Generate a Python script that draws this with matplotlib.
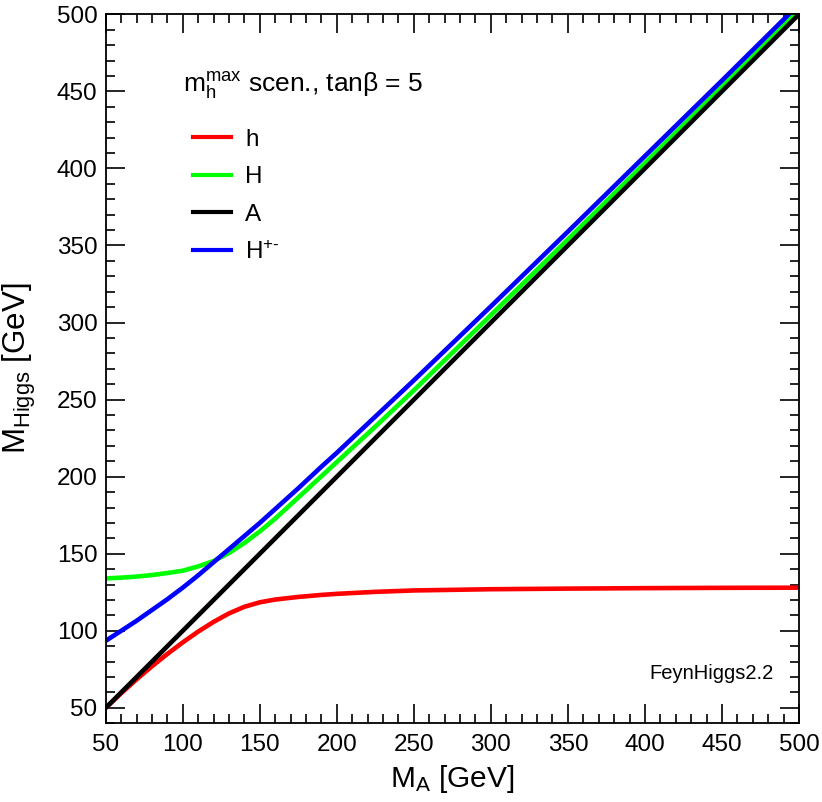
import matplotlib
matplotlib.use("Agg")
import matplotlib.pyplot as plt
from matplotlib.ticker import MultipleLocator
from matplotlib.lines import Line2D

plt.rcParams['font.family'] = ['Liberation Sans', 'DejaVu Sans']
plt.rcParams['mathtext.fontset'] = 'custom'
plt.rcParams['mathtext.rm'] = 'Liberation Sans'
plt.rcParams['mathtext.it'] = 'Liberation Sans'
plt.rcParams['mathtext.bf'] = 'Liberation Sans:bold'

# ---- data ----
MA = [50, 60, 70, 80, 90, 100, 110, 120, 130, 140, 150, 160, 175,
      190, 200, 225, 250, 300, 350, 400, 450, 500]
m_h = [50, 59.5, 68.5, 77, 85, 92.5, 99.5, 105.8, 111.3, 115.6, 118.5, 120.3, 122,
       123.3, 124, 125.3, 126.2, 127, 127.4, 127.7, 127.9, 128]
m_H = [134, 134.5, 135.2, 136.2, 137.5, 139, 141.8, 145.3, 150.5, 157, 164.5, 172.8, 186.5,
       200.3, 209.5, 232.5, 256, 304.8, 354, 403.5, 453, 502.7]
m_A = MA
m_Hpm = [93.5, 100, 106.5, 113.5, 120.5, 128, 136, 144.5, 153, 161.5, 170, 179, 192.5,
         206.5, 215.5, 239, 262.5, 310.5, 359, 408, 457, 506.5]

series = [("h", m_h, "#ff0000"),
          ("H", m_H, "#00ff00"),
          ("A", m_A, "#000000"),
          (r"H$^{\text{+-}}$", m_Hpm, "#0000ff")]

x_ticks = [50, 100, 150, 200, 250, 300, 350, 400, 450, 500]
y_ticks = [50, 100, 150, 200, 250, 300, 350, 400, 450, 500]

fig = plt.figure(figsize=(8.22, 8.02), dpi=100)
ax = fig.add_axes([0.1286, 0.0981, 0.8434, 0.8841])

# draw order: h, H, A, H+- (blue on top as in reference)
for name, vals, col in [series[0], series[1], series[3], series[2]]:
    ax.plot(MA, vals, color=col, lw=3.3, solid_capstyle='butt', solid_joinstyle='round')

ax.set_xlim(50, 500)
ax.set_ylim(40, 500)
ax.set_xticks(x_ticks)
ax.set_yticks(y_ticks)
ax.xaxis.set_minor_locator(MultipleLocator(10))
ax.yaxis.set_minor_locator(MultipleLocator(10))
ax.tick_params(which='both', direction='in', top=True, right=True, width=1.2, color='black')
ax.tick_params(which='major', length=13.5, labelsize=17.5)
ax.tick_params(which='minor', length=6.5)
ax.tick_params(axis='x', which='major', pad=8)
ax.tick_params(axis='y', which='major', pad=6)
for s in ax.spines.values():
    s.set_linewidth(1.3)

fig.text(0.5507, 0.0191, r"$\mathregular{M_A}$ [GeV]", fontsize=21.5, ha='center', va='baseline')
fig.text(0.001, 0.5402, r"$\mathregular{M_{Higgs}}$ [GeV]", fontsize=22.5, rotation=90,
         ha='left', va='center')

ax.text(0.1115, 0.8908, r"$\mathregular{m_h^{max}}$ scen., tanβ = 5", transform=ax.transAxes,
        fontsize=19, ha='left', va='baseline')

handles = [Line2D([], [], color=c, lw=3.0) for _, _, c in series]
labels = [n for n, _, _ in series]
ax.legend(handles, labels, loc='upper left', bbox_to_anchor=(0.1259, 0.8383),
          frameon=False, fontsize=17.5, handlelength=1.56, handletextpad=0.58,
          labelspacing=0.63, borderpad=0, borderaxespad=0)

ax.text(483.7, 69, "FeynHiggs2.2", fontsize=14.5, ha='right', va='baseline')

fig.savefig("out.png", dpi=100)
